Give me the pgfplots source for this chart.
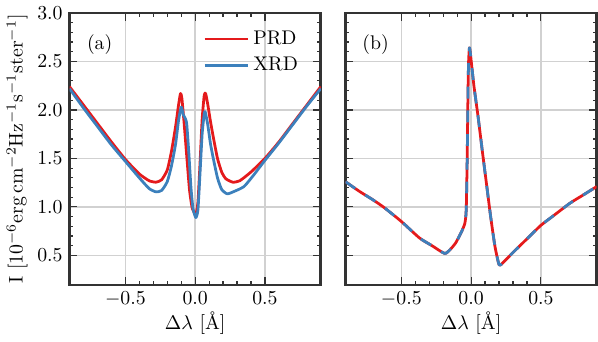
\documentclass[border=0pt]{standalone}
\usepackage{pgfplots}
\pgfplotsset{compat=1.18}

\definecolor{prdred}{RGB}{228,26,28}
\definecolor{xrdblue}{RGB}{60,128,188}

\pgfplotsset{
  panel/.style={
    scale only axis, width=127pt, height=137.5pt,
    xmin=-0.9, xmax=0.9, ymin=0.195, ymax=3.0,
    xtick={-0.5,0,0.5}, ytick={0.5,1.0,...,3.0},
    minor tick num=4,
    tick align=inside,
    major tick length=4pt, minor tick length=2pt,
    every tick/.style={black!80, line width=0.6pt},
    axis line style={black!80, line width=1.3pt},
    grid=major, major grid style={black!18, line width=0.7pt},
    font=\fontsize{10}{12}\selectfont,
    xticklabel style={/pgf/number format/.cd, fixed, fixed zerofill, precision=1},
    yticklabel style={/pgf/number format/.cd, fixed, fixed zerofill, precision=1},
    xlabel={$\Delta\lambda$ [\AA]},
    xlabel style={yshift=4pt},
    every axis plot/.append style={line width=1.4pt, line join=round,
      smooth, tension=0.35},
  }
}

\begin{document}
\begin{tikzpicture}
\begin{axis}[panel,
  ylabel={I [$10^{-6}$erg\,cm$^{-2}$Hz$^{-1}$s$^{-1}$ster$^{-1}$]},
  ylabel style={yshift=-2pt},
  legend style={draw=none, fill=none, font=\fontsize{10}{12}\selectfont,
    at={(rel axis cs:0.95,0.965)}, anchor=north east, row sep=1pt},
  legend cell align=left,
  legend image code/.code={\draw[#1] (0pt,0pt) -- (22pt,0pt);}]
\addplot[prdred] coordinates {
(-0.90,2.24) (-0.80,2.05) (-0.70,1.86) (-0.60,1.67) (-0.50,1.49)
(-0.40,1.34) (-0.33,1.27) (-0.28,1.255) (-0.24,1.28) (-0.20,1.38)
(-0.17,1.57) (-0.14,1.83) (-0.12,2.04) (-0.105,2.17) (-0.095,2.12)
(-0.08,1.88) (-0.06,1.52) (-0.04,1.17) (-0.02,0.98) (0.005,0.93)
(0.02,1.05) (0.035,1.45) (0.05,1.90) (0.065,2.15) (0.075,2.17)
(0.09,2.06) (0.11,1.88) (0.13,1.72) (0.16,1.50) (0.19,1.36)
(0.22,1.29) (0.27,1.255) (0.32,1.27) (0.40,1.36) (0.50,1.50)
(0.60,1.67) (0.70,1.86) (0.80,2.05) (0.90,2.24)};
\addlegendentry{PRD}
\addplot[xrdblue] coordinates {
(-0.90,2.22) (-0.80,2.02) (-0.70,1.83) (-0.60,1.64) (-0.50,1.47)
(-0.40,1.30) (-0.33,1.19) (-0.28,1.155) (-0.24,1.17) (-0.20,1.26)
(-0.17,1.42) (-0.14,1.65) (-0.12,1.88) (-0.10,2.03) (-0.085,1.95)
(-0.07,1.91) (-0.06,1.85) (-0.045,1.55) (-0.03,1.20) (-0.015,0.98)
(0.005,0.89) (0.02,0.97) (0.035,1.35) (0.05,1.75) (0.065,1.96)
(0.072,1.98) (0.09,1.85) (0.11,1.65) (0.13,1.50) (0.16,1.30)
(0.19,1.18) (0.23,1.135) (0.28,1.16) (0.35,1.21) (0.42,1.33)
(0.50,1.48) (0.60,1.66) (0.70,1.85) (0.80,2.04) (0.90,2.22)};
\addlegendentry{XRD}
\node[anchor=center] at (rel axis cs:0.12,0.885) {(a)};
\end{axis}

\begin{axis}[panel, xshift=139.5pt, yticklabels={}]
\addplot[prdred] coordinates {
(-0.90,1.26) (-0.80,1.16) (-0.70,1.07) (-0.62,0.99) (-0.50,0.85)
(-0.37,0.68) (-0.28,0.60) (-0.19,0.52) (-0.15,0.56) (-0.11,0.63)
(-0.07,0.74) (-0.045,0.83) (-0.035,0.97) (-0.028,1.5) (-0.022,2.2)
(-0.018,2.50) (-0.012,2.64) (-0.005,2.58) (0.02,2.25) (0.05,1.93)
(0.08,1.58) (0.11,1.24) (0.14,0.90) (0.17,0.60) (0.195,0.43)
(0.21,0.40) (0.30,0.53) (0.40,0.67) (0.50,0.81) (0.60,0.92)
(0.71,1.04) (0.80,1.12) (0.90,1.21)};
\addplot[xrdblue, dash pattern=on 6pt off 6pt] coordinates {
(-0.90,1.26) (-0.80,1.16) (-0.70,1.07) (-0.62,0.99) (-0.50,0.85)
(-0.37,0.68) (-0.28,0.60) (-0.19,0.52) (-0.15,0.56) (-0.11,0.63)
(-0.07,0.74) (-0.045,0.83) (-0.035,0.97) (-0.028,1.5) (-0.022,2.2)
(-0.018,2.50) (-0.012,2.64) (-0.005,2.58) (0.02,2.25) (0.05,1.93)
(0.08,1.58) (0.11,1.24) (0.14,0.90) (0.17,0.60) (0.195,0.43)
(0.21,0.40) (0.30,0.53) (0.40,0.67) (0.50,0.81) (0.60,0.92)
(0.71,1.04) (0.80,1.12) (0.90,1.21)};
\node[anchor=center] at (rel axis cs:0.12,0.885) {(b)};
\end{axis}
\end{tikzpicture}
\end{document}
